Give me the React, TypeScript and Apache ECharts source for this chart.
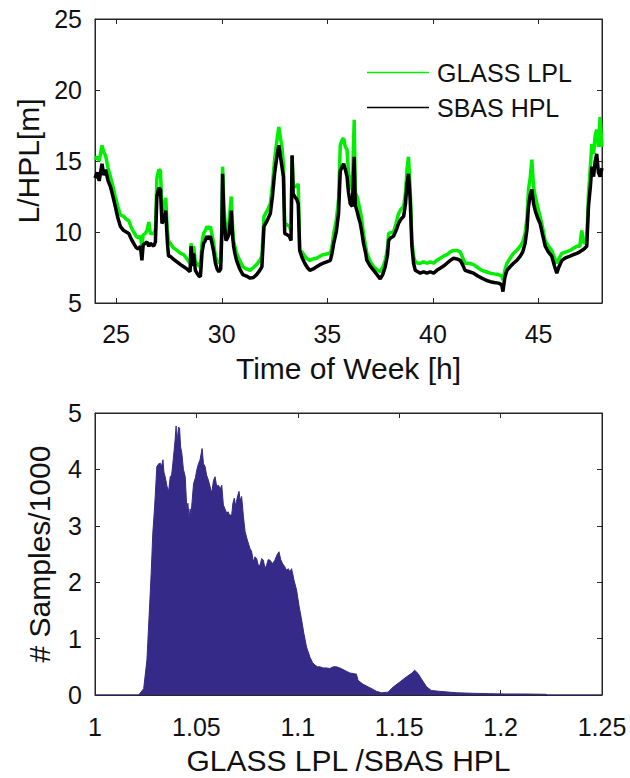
import React, { useEffect, useRef } from "react";
import * as echarts from "echarts";

// ---- Top panel: protection levels over time of week ----
const hours = [
  24.0, 24.1, 24.2, 24.33, 24.42, 24.5, 24.62, 24.73, 24.85, 24.96, 25.08, 25.2, 25.36, 25.48, 25.6, 25.72, 25.83, 25.95,
  26.05, 26.15, 26.22, 26.28, 26.38, 26.46, 26.55, 26.62, 26.7, 26.78, 26.86, 26.93, 27.02, 27.1, 27.17, 27.25, 27.35,
  27.42, 27.48, 27.56, 27.7, 27.88, 28.05, 28.2, 28.35, 28.5, 28.55, 28.62, 28.67, 28.75, 28.83, 28.92, 28.99, 29.07,
  29.14, 29.22, 29.3, 29.38, 29.46, 29.54, 29.62, 29.7, 29.78, 29.86, 29.95, 30.0, 30.04, 30.1, 30.2, 30.28, 30.35,
  30.45, 30.52, 30.56, 30.62, 30.7, 30.85, 31.0, 31.17, 31.34, 31.5, 31.65, 31.8, 31.9, 32.0, 32.15, 32.3, 32.4, 32.5,
  32.6, 32.7, 32.78, 32.85, 32.92, 32.98, 33.1, 33.2, 33.28, 33.33, 33.38, 33.45, 33.55, 33.62, 33.69, 33.8, 33.93,
  34.05, 34.17, 34.33, 34.49, 34.65, 34.8, 34.97, 35.14, 35.22, 35.3, 35.42, 35.53, 35.61, 35.7, 35.77, 35.85, 35.93,
  36.0, 36.08, 36.18, 36.27, 36.32, 36.4, 36.48, 36.56, 36.64, 36.71, 36.8, 36.87, 37.03, 37.19, 37.35, 37.5, 37.62,
  37.74, 37.85, 37.9, 38.0, 38.13, 38.25, 38.37, 38.48, 38.61, 38.7, 38.77, 38.84, 38.92, 39.0, 39.08, 39.16, 39.28,
  39.4, 39.55, 39.71, 39.87, 40.03, 40.18, 40.34, 40.5, 40.66, 40.82, 40.97, 41.13, 41.29, 41.4, 41.52, 41.72, 41.92,
  42.12, 42.31, 42.51, 42.71, 42.9, 43.1, 43.25, 43.31, 43.4, 43.5, 43.65, 43.81, 43.97, 44.13, 44.25, 44.36, 44.45,
  44.52, 44.6, 44.68, 44.76, 44.84, 44.95, 45.07, 45.19, 45.31, 45.46, 45.62, 45.75, 45.86, 45.95, 46.1, 46.3, 46.49,
  46.65, 46.81, 46.95, 47.04, 47.15, 47.28, 47.36, 47.45, 47.52, 47.6, 47.68, 47.75, 47.83, 47.91, 48.0,
];

const sbasHpl = [
  13.8, 14.2, 13.6, 14.8, 14.0, 14.4, 13.6, 13.2, 12.5, 11.8, 11.0, 10.4, 10.1, 10.0, 9.9, 9.5, 9.2, 8.9,
  8.8, 9.0, 8.0, 9.1, 9.2, 9.3, 9.0, 9.2, 9.1, 9.0, 9.3, 12.5, 13.1, 13.0, 10.6, 10.8, 11.5,
  9.4, 8.3, 8.3, 8.1, 7.9, 7.7, 7.55, 7.4, 7.2, 9.0, 7.6, 8.5, 7.3, 7.1, 6.9, 6.85, 8.6,
  9.2, 9.4, 9.7, 9.5, 9.7, 9.2, 8.6, 7.8, 7.4, 7.2, 7.4, 9.7, 14.1, 11.0, 9.4, 9.6, 9.9,
  11.5, 9.6, 9.0, 8.5, 8.0, 7.4, 7.0, 6.9, 6.75, 6.8, 7.0, 7.3, 7.55, 10.4, 10.8, 11.3, 12.5, 14.1,
  15.2, 16.1, 15.3, 14.6, 13.9, 9.9, 9.8, 9.7, 9.4, 15.4, 12.7, 12.5, 12.3, 12.0, 8.7, 8.2, 7.8,
  7.5, 7.3, 7.4, 7.55, 7.7, 7.8, 7.9, 8.0, 8.5, 9.2, 10.0, 11.3, 14.3, 14.6, 14.8, 14.4, 13.9,
  12.8, 12.0, 11.8, 15.3, 11.9, 11.5, 11.0, 10.6, 9.9, 9.2, 8.6, 8.0, 7.6, 7.3, 7.0, 6.7, 7.0,
  7.55, 8.4, 9.4, 9.6, 9.7, 10.1, 10.6, 10.9, 11.1, 12.0, 13.4, 14.1, 12.3, 9.0, 7.8, 7.3, 7.2,
  7.1, 7.2, 7.1, 7.2, 7.1, 7.3, 7.45, 7.6, 7.8, 8.0, 8.15, 8.1, 8.0, 7.7, 7.3, 7.2, 7.1,
  6.9, 6.75, 6.6, 6.5, 6.45, 6.4, 6.3, 5.8, 6.8, 7.3, 7.55, 7.8, 8.0, 8.3, 8.6, 9.2, 10.2,
  11.8, 12.6, 13.0, 12.0, 11.5, 11.0, 10.6, 9.8, 9.0, 8.6, 8.3, 7.6, 7.1, 7.5, 8.0, 8.2, 8.3,
  8.4, 8.5, 8.6, 8.7, 8.8, 9.0, 11.8, 13.2, 14.6, 13.9, 15.0, 15.5, 14.2, 13.9, 14.5,
];

const glassLpl = [
  15.1, 15.3, 15.0, 16.1, 15.6, 15.4, 14.5, 13.9, 13.2, 12.5, 11.8, 11.2, 11.1, 10.9, 10.8, 10.3, 10.0, 9.7,
  9.6, 9.7, 9.0, 9.8, 9.9, 10.1, 10.7, 9.9, 9.9, 9.9, 10.1, 13.8, 14.4, 14.3, 11.5, 11.6, 12.4,
  10.2, 9.4, 9.2, 8.9, 8.7, 8.5, 8.4, 8.1, 7.8, 9.2, 8.3, 9.0, 7.9, 7.8, 7.6, 7.6, 9.3,
  9.9, 10.1, 10.4, 10.2, 10.4, 9.8, 9.2, 8.3, 8.0, 7.8, 8.0, 10.3, 14.6, 11.8, 9.9, 10.2, 10.8,
  12.5, 10.2, 9.4, 9.0, 8.5, 8.0, 7.55, 7.4, 7.3, 7.5, 7.7, 8.0, 8.3, 11.1, 11.5, 12.0, 13.3, 15.1,
  16.3, 17.4, 16.6, 16.0, 14.7, 10.6, 10.5, 10.4, 10.1, 15.3, 13.4, 13.2, 13.2, 13.4, 8.7, 8.6, 8.3,
  8.1, 8.0, 8.1, 8.15, 8.3, 8.4, 8.45, 8.5, 9.0, 9.9, 10.8, 12.3, 16.1, 16.5, 16.6, 16.0, 15.8,
  14.2, 13.4, 13.0, 17.9, 12.8, 12.5, 12.0, 11.5, 10.7, 9.9, 9.1, 8.5, 7.9, 7.55, 7.35, 7.2, 7.5,
  8.0, 8.9, 9.9, 9.95, 10.0, 10.6, 11.3, 11.6, 11.8, 12.8, 14.4, 15.3, 13.0, 9.4, 8.3, 7.9, 7.8,
  7.8, 7.9, 7.8, 7.9, 7.8, 8.0, 8.15, 8.3, 8.4, 8.6, 8.7, 8.7, 8.6, 8.2, 7.8, 7.8, 7.7,
  7.5, 7.3, 7.2, 7.1, 7.05, 7.0, 6.9, 6.6, 7.3, 7.8, 8.15, 8.5, 8.7, 9.0, 9.3, 9.9, 11.0,
  13.0, 13.8, 15.1, 13.2, 12.5, 11.8, 11.1, 10.3, 9.4, 9.0, 8.7, 8.2, 7.8, 8.1, 8.5, 8.6, 8.7,
  8.85, 9.0, 9.0, 10.1, 9.2, 9.3, 12.7, 14.6, 16.2, 15.5, 16.8, 17.2, 16.0, 18.1, 16.0,
];

const topXTicks = [25, 30, 35, 40, 45];

// ---- Bottom panel: histogram of GLASS LPL / SBAS HPL ----
const ratioBins = [
  1.0, 1.0215, 1.024, 1.0256, 1.0269, 1.0277, 1.0285, 1.0294, 1.0305, 1.0314, 1.0322, 1.0328, 1.0335, 1.034, 1.0346,
  1.0355, 1.0363, 1.0371, 1.0378, 1.0384, 1.0395, 1.04, 1.0403, 1.0407, 1.0412, 1.0417, 1.0422, 1.0428, 1.0436,
  1.0445, 1.0453, 1.0458, 1.0464, 1.0469, 1.0474, 1.0486, 1.0495, 1.0502, 1.051, 1.0518, 1.0528, 1.0535, 1.0543,
  1.055, 1.0559, 1.0567, 1.0576, 1.0584, 1.0592, 1.06, 1.0609, 1.0617, 1.0625, 1.0633, 1.0641, 1.065, 1.0656, 1.0663,
  1.0674, 1.068, 1.0687, 1.0693, 1.0699, 1.0705, 1.071, 1.0716, 1.0723, 1.0732, 1.074, 1.0751, 1.0764, 1.0772, 1.0781,
  1.0789, 1.0797, 1.0805, 1.0814, 1.0822, 1.083, 1.0838, 1.0846, 1.0854, 1.0863, 1.0875, 1.0887, 1.0897, 1.0907,
  1.0916, 1.0925, 1.0935, 1.0945, 1.0953, 1.0961, 1.0969, 1.0975, 1.0981, 1.0994, 1.1007, 1.1019, 1.103, 1.1043,
  1.106, 1.1072, 1.1084, 1.1097, 1.1109, 1.1125, 1.1142, 1.1158, 1.1175, 1.1191, 1.1207, 1.1224, 1.124, 1.1257,
  1.1273, 1.1289, 1.1297, 1.1322, 1.1355, 1.1388, 1.1412, 1.1445, 1.147, 1.1503, 1.1535, 1.156, 1.1576, 1.1593,
  1.1609, 1.1634, 1.1658, 1.1699, 1.1781, 1.1863, 1.1945, 1.2027, 1.2126, 1.2224, 1.2232, 1.25,
];

const samplesPer1000 = [
  0, 0, 0.11, 0.62, 1.56, 2.16, 2.87, 3.34, 4.05, 4.1, 4.11, 4.05, 4.17, 3.95, 3.87,
  3.7, 3.61, 3.87, 3.9, 4.11, 4.52, 4.77, 4.5, 4.58, 4.75, 4.73, 4.4, 4.29, 4.0,
  3.87, 3.28, 3.4, 3.13, 3.3, 3.22, 3.75, 3.85, 3.99, 4.1, 4.17, 4.37, 4.1, 4.05,
  3.9, 3.81, 3.7, 3.58, 3.8, 3.87, 3.7, 3.72, 3.65, 3.72, 3.37, 3.3, 3.22, 3.25, 3.19,
  3.19, 3.4, 3.49, 3.35, 3.46, 3.55, 3.61, 3.45, 3.52, 3.16, 2.9, 2.75, 2.6, 2.55, 2.36,
  2.45, 2.42, 2.3, 2.3, 2.42, 2.39, 2.25, 2.3, 2.4, 2.39, 2.33, 2.39, 2.48, 2.54,
  2.4, 2.33, 2.28, 2.21, 2.24, 2.18, 2.24, 2.15, 2.04, 1.86, 1.56, 1.33, 1.09, 0.85,
  0.67, 0.58, 0.53, 0.5, 0.5, 0.48, 0.48, 0.47, 0.5, 0.5, 0.48, 0.45, 0.42, 0.39,
  0.38, 0.37, 0.26, 0.19, 0.13, 0.065, 0.04, 0.05, 0.14, 0.23, 0.32, 0.38, 0.44, 0.38,
  0.29, 0.15, 0.08, 0.065, 0.04, 0.03, 0.024, 0.018, 0.018, 0.012, 0, 0,
];

const FONT = "'Liberation Sans', Arial, Helvetica, sans-serif";
const AXIS_COLOR = "#262626";
const TEXT_COLOR = "#111111";

function axisBase() {
  return {
    axisLine: { show: true, onZero: false, lineStyle: { color: AXIS_COLOR, width: 1 } },
    axisTick: { show: true, inside: true, length: 5, lineStyle: { color: AXIS_COLOR, width: 1 } },
    splitLine: { show: false },
  };
}

export default function App() {
  const ref = useRef<HTMLDivElement>(null);

  useEffect(() => {
    if (!ref.current) return;
    const chart = echarts.init(ref.current, undefined, { renderer: "svg" });

    const sbasData = hours.map((h, i) => [h, sbasHpl[i]]);
    const glassData = hours.map((h, i) => [h, glassLpl[i]]);
    const histData = ratioBins.map((r, i) => [r, samplesPer1000[i]]);

    const labelStyle = { fontFamily: FONT, fontSize: 25, color: TEXT_COLOR };
    const nameStyle = { fontFamily: FONT, fontSize: 30, color: TEXT_COLOR };

    chart.setOption({
      animation: false,
      backgroundColor: "#ffffff",
      textStyle: { fontFamily: FONT },
      grid: [
        { left: 95, top: 19, width: 507, height: 284, show: true, borderColor: AXIS_COLOR, borderWidth: 1, backgroundColor: "transparent" },
        { left: 95, top: 413, width: 507, height: 282, show: true, borderColor: AXIS_COLOR, borderWidth: 1, backgroundColor: "transparent" },
      ],
      legend: {
        orient: "vertical",
        left: 362,
        top: 55,
        icon: "rect",
        itemWidth: 62,
        itemHeight: 1.5,
        itemGap: 10,
        data: ["GLASS LPL", "SBAS HPL"],
        textStyle: { fontFamily: FONT, fontSize: 25, color: TEXT_COLOR, padding: [0, 0, 0, 3] },
        selectedMode: false,
      },
      xAxis: [
        {
          ...axisBase(),
          gridIndex: 0,
          type: "value",
          position: "bottom",
          min: 24,
          max: 48,
          axisTick: { show: true, inside: true, length: 5, lineStyle: { color: AXIS_COLOR }, customValues: topXTicks },
          axisLabel: { ...labelStyle, margin: 18, customValues: topXTicks },
          name: "Time of Week [h]",
          nameLocation: "middle",
          nameGap: 50,
          nameTextStyle: nameStyle,
        },
        {
          ...axisBase(),
          gridIndex: 0,
          type: "value",
          position: "top",
          min: 24,
          max: 48,
          axisTick: { show: true, inside: true, length: 5, lineStyle: { color: AXIS_COLOR }, customValues: topXTicks },
          axisLabel: { show: false, customValues: topXTicks },
        },
        {
          ...axisBase(),
          gridIndex: 1,
          type: "value",
          position: "bottom",
          min: 1,
          max: 1.25,
          interval: 0.05,
          axisLabel: { ...labelStyle, margin: 19 },
          name: "GLASS LPL /SBAS HPL",
          nameLocation: "middle",
          nameGap: 50,
          nameTextStyle: nameStyle,
        },
        {
          ...axisBase(),
          gridIndex: 1,
          type: "value",
          position: "top",
          min: 1,
          max: 1.25,
          interval: 0.05,
          axisLabel: { show: false },
        },
      ],
      yAxis: [
        {
          ...axisBase(),
          gridIndex: 0,
          type: "value",
          position: "left",
          min: 5,
          max: 25,
          interval: 5,
          axisLabel: { ...labelStyle, margin: 13 },
          name: "L/HPL[m]",
          nameLocation: "middle",
          nameGap: 52,
          nameTextStyle: nameStyle,
        },
        {
          ...axisBase(),
          gridIndex: 0,
          type: "value",
          position: "right",
          min: 5,
          max: 25,
          interval: 5,
          axisLabel: { show: false },
        },
        {
          ...axisBase(),
          gridIndex: 1,
          type: "value",
          position: "left",
          min: 0,
          max: 5,
          interval: 1,
          axisLabel: { ...labelStyle, margin: 13 },
          name: "# Samples/1000",
          nameLocation: "middle",
          nameGap: 41,
          nameTextStyle: nameStyle,
        },
        {
          ...axisBase(),
          gridIndex: 1,
          type: "value",
          position: "right",
          min: 0,
          max: 5,
          interval: 1,
          axisLabel: { show: false },
        },
      ],
      series: [
        {
          name: "GLASS LPL",
          type: "line",
          xAxisIndex: 0,
          yAxisIndex: 0,
          data: glassData,
          symbol: "none",
          color: "#00ee00",
          lineStyle: { color: "#00ee00", width: 3.5 },
          clip: true,
        },
        {
          name: "SBAS HPL",
          type: "line",
          xAxisIndex: 0,
          yAxisIndex: 0,
          data: sbasData,
          symbol: "none",
          color: "#000000",
          lineStyle: { color: "#000000", width: 3.5 },
          clip: true,
        },
        {
          name: "ratio histogram",
          type: "line",
          xAxisIndex: 2,
          yAxisIndex: 2,
          data: histData,
          symbol: "none",
          color: "#352a87",
          lineStyle: { color: "#352a87", width: 1 },
          areaStyle: { color: "#352a87", opacity: 1 },
          clip: true,
        },
      ],
    });

    return () => chart.dispose();
  }, []);

  return (
    <div
      ref={ref}
      style={{ position: "fixed", left: 0, top: 0, width: 630, height: 778, background: "#fff" }}
    />
  );
}
